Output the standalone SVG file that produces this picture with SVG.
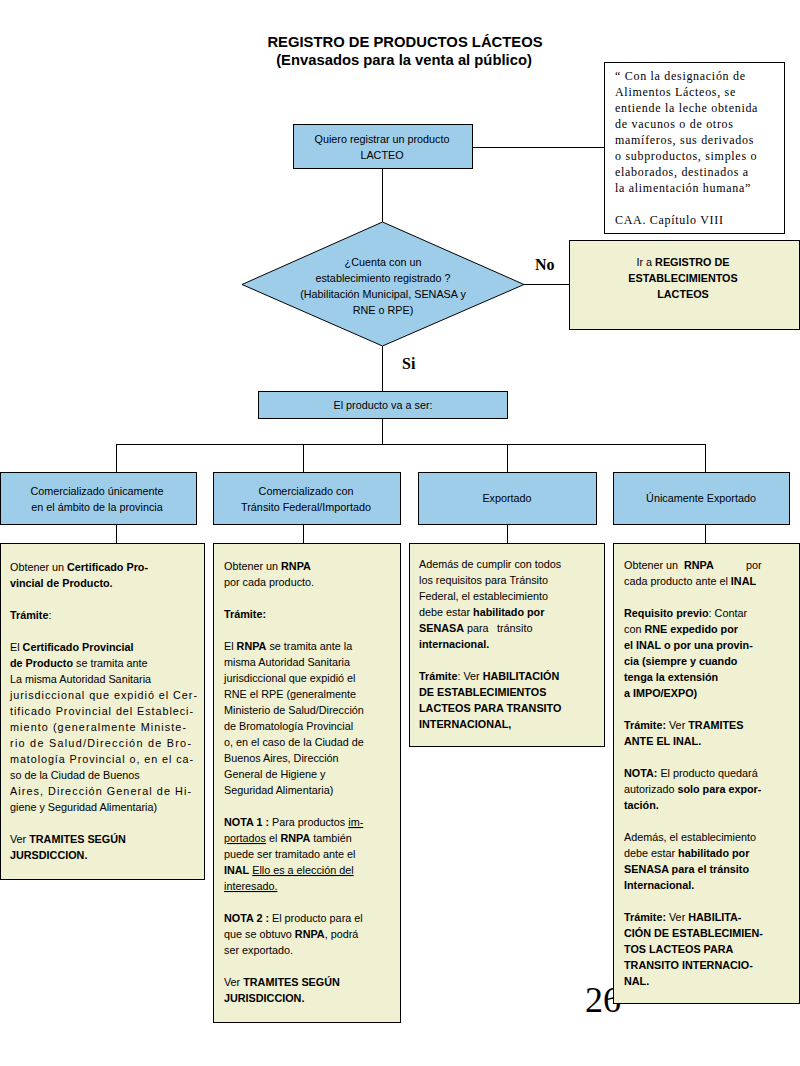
<svg xmlns="http://www.w3.org/2000/svg" width="800" height="1066" viewBox="0 0 800 1066">
<style>
.t{font-family:"Liberation Sans",Arial,sans-serif;font-size:10.8px;fill:#000}
.c{text-anchor:middle}
.b{font-weight:bold}
.u{text-decoration:underline}
.q{font-family:"Liberation Serif","Times New Roman",serif;font-size:12px;letter-spacing:0.7px;fill:#000}
.lbl{font-family:"Liberation Serif","Times New Roman",serif;font-size:16px;font-weight:bold;fill:#000}
.ttl{font-family:"Liberation Sans",Arial,sans-serif;font-size:14.8px;font-weight:bold;text-anchor:middle;fill:#000}
.blue{fill:#9ECDEA;stroke:#000;stroke-width:1}
.yel{fill:#F0F0D2;stroke:#000;stroke-width:1}
.wht{fill:#fff;stroke:#000;stroke-width:1}
.ln{stroke:#000;stroke-width:1;fill:none}
</style>
<rect width="800" height="1066" fill="#fff"/>
<g id="title">
<text class="ttl" x="405" y="47">REGISTRO DE PRODUCTOS LÁCTEOS</text>
<text class="ttl" x="404" y="65">(Envasados para la venta al público)</text>
</g>
<g id="connectors">
<path class="ln" d="M472,147.5 H604 M382.5,169 V222 M524,284.5 H569 M382.5,346 V391 M382.5,418 V444 M116,444.5 H705.5 M116.5,444 V472 M303.5,444 V472 M507.5,444 V472 M705.5,444 V472 M116.5,524 V543 M303.5,524 V543 M507.5,524 V543 M705.5,524 V543"/>
</g>
<g id="quote">
<rect class="wht" x="604.5" y="62.5" width="180" height="171"/>
<text class="q" x="615" y="80">“ Con la designación de</text>
<text class="q" x="615" y="96">Alimentos Lácteos, se</text>
<text class="q" x="615" y="112">entiende la leche obtenida</text>
<text class="q" x="615" y="128">de vacunos o de otros</text>
<text class="q" x="615" y="144">mamíferos, sus derivados</text>
<text class="q" x="615" y="160">o subproductos, simples o</text>
<text class="q" x="615" y="176">elaborados, destinados a</text>
<text class="q" x="615" y="192">la alimentación humana”</text>
<text class="q" x="615" y="224">CAA. Capítulo VIII</text>
</g>
<g id="start">
<rect class="blue" x="293.5" y="124.5" width="179" height="44"/>
<text class="t c" x="382" y="143">Quiero registrar un producto</text>
<text class="t c" x="382" y="159">LACTEO</text>
</g>
<g id="decision">
<polygon class="blue" points="382.5,222 524,284.5 382.5,346 242,284.5"/>
<text class="t c" x="383" y="266">¿Cuenta con un</text>
<text class="t c" x="383" y="282">establecimiento registrado ?</text>
<text class="t c" x="383" y="298">(Habilitación Municipal, SENASA y</text>
<text class="t c" x="383" y="314">RNE o RPE)</text>
</g>
<text class="lbl" x="535" y="270">No</text>
<text class="lbl" x="402" y="369">Si</text>
<g id="registro">
<rect class="yel" x="569.5" y="240.5" width="230" height="89"/>
<text class="t c" x="683" y="266">Ir a <tspan class="b">REGISTRO DE</tspan></text>
<text class="t c b" x="683" y="282">ESTABLECIMIENTOS</text>
<text class="t c b" x="683" y="298">LACTEOS</text>
</g>
<g id="tipo">
<rect class="blue" x="258.5" y="391.5" width="249" height="27"/>
<text class="t c" x="383" y="409">El producto va a ser:</text>
</g>
<g id="cat1">
<rect class="blue" x="0.5" y="472.5" width="196" height="52"/>
<text class="t c" x="97" y="495">Comercializado únicamente</text>
<text class="t c" x="97" y="511">en el ámbito de la provincia</text>
</g>
<g id="cat2">
<rect class="blue" x="213.5" y="472.5" width="187" height="52"/>
<text class="t c" x="306" y="495">Comercializado con</text>
<text class="t c" x="306" y="511">Tránsito Federal/Importado</text>
</g>
<g id="cat3">
<rect class="blue" x="418.5" y="472.5" width="178" height="52"/>
<text class="t c" x="507" y="502">Exportado</text>
</g>
<g id="cat4">
<rect class="blue" x="613.5" y="472.5" width="176" height="52"/>
<text class="t c" x="701" y="502">Únicamente Exportado</text>
</g>
<g id="detA">
<rect class="yel" x="0.5" y="543.5" width="204" height="336"/>
<text class="t" x="10" y="571">Obtener un <tspan class="b">Certificado Pro-</tspan></text>
<text class="t b" x="10" y="587">vincial de Producto.</text>
<text class="t" x="10" y="619"><tspan class="b">Trámite</tspan>:</text>
<text class="t" x="10" y="651">El <tspan class="b">Certificado Provincial</tspan></text>
<text class="t" x="10" y="667"><tspan class="b">de Producto</tspan> se tramita ante</text>
<text class="t" x="10" y="683">La misma Autoridad Sanitaria</text>
<text class="t" x="10" y="699" textLength="187" lengthAdjust="spacing">jurisdiccional que expidió el Cer-</text>
<text class="t" x="10" y="715" textLength="183" lengthAdjust="spacing">tificado Provincial del Estableci-</text>
<text class="t" x="10" y="731" textLength="176" lengthAdjust="spacing">miento (generalmente Ministe-</text>
<text class="t" x="10" y="747" textLength="181" lengthAdjust="spacing">rio de Salud/Dirección de Bro-</text>
<text class="t" x="10" y="763" textLength="183" lengthAdjust="spacing">matología Provincial o, en el ca-</text>
<text class="t" x="10" y="779">so de la Ciudad de Buenos</text>
<text class="t" x="10" y="795" textLength="181" lengthAdjust="spacing">Aires, Dirección General de Hi-</text>
<text class="t" x="10" y="811">giene y Seguridad Alimentaria)</text>
<text class="t" x="10" y="843">Ver <tspan class="b">TRAMITES SEGÚN</tspan></text>
<text class="t b" x="10" y="859">JURSDICCION.</text>
</g>
<g id="detB">
<rect class="yel" x="213.5" y="543.5" width="187" height="479"/>
<text class="t" x="224" y="570">Obtener un <tspan class="b">RNPA</tspan></text>
<text class="t" x="224" y="586">por cada producto.</text>
<text class="t b" x="224" y="618">Trámite:</text>
<text class="t" x="224" y="650">El <tspan class="b">RNPA</tspan> se tramita ante la</text>
<text class="t" x="224" y="666">misma Autoridad Sanitaria</text>
<text class="t" x="224" y="682">jurisdiccional que expidió el</text>
<text class="t" x="224" y="698">RNE el RPE (generalmente</text>
<text class="t" x="224" y="714">Ministerio de Salud/Dirección</text>
<text class="t" x="224" y="730">de Bromatología Provincial</text>
<text class="t" x="224" y="746">o, en el caso de la Ciudad de</text>
<text class="t" x="224" y="762">Buenos Aires, Dirección</text>
<text class="t" x="224" y="778">General de Higiene y</text>
<text class="t" x="224" y="794">Seguridad Alimentaria)</text>
<text class="t" x="224" y="826"><tspan class="b">NOTA 1 :</tspan> Para productos <tspan class="u">im-</tspan></text>
<text class="t" x="224" y="842"><tspan class="u">portados</tspan> el <tspan class="b">RNPA</tspan> también</text>
<text class="t" x="224" y="858">puede ser tramitado ante el</text>
<text class="t" x="224" y="874"><tspan class="b">INAL</tspan> <tspan class="u">Ello es a elección del</tspan></text>
<text class="t u" x="224" y="890">interesado.</text>
<text class="t" x="224" y="922"><tspan class="b">NOTA 2 :</tspan> El producto para el</text>
<text class="t" x="224" y="938">que se obtuvo <tspan class="b">RNPA</tspan>, podrá</text>
<text class="t" x="224" y="954">ser exportado.</text>
<text class="t" x="224" y="986">Ver <tspan class="b">TRAMITES SEGÚN</tspan></text>
<text class="t b" x="224" y="1002">JURISDICCION.</text>
</g>
<g id="detC">
<rect class="yel" x="409.5" y="543.5" width="195" height="203"/>
<text class="t" x="419" y="568">Además de cumplir con todos</text>
<text class="t" x="419" y="584">los requisitos para Tránsito</text>
<text class="t" x="419" y="600">Federal, el establecimiento</text>
<text class="t" x="419" y="616">debe estar <tspan class="b">habilitado por</tspan></text>
<text class="t" x="419" y="632"><tspan class="b">SENASA</tspan> para <tspan x="497">tránsito</tspan></text>
<text class="t b" x="419" y="648">internacional.</text>
<text class="t" x="419" y="680"><tspan class="b">Trámite</tspan>: Ver <tspan class="b">HABILITACIÓN</tspan></text>
<text class="t b" x="419" y="696">DE ESTABLECIMIENTOS</text>
<text class="t b" x="419" y="712">LACTEOS <tspan x="474">PARA TRANSITO</tspan></text>
<text class="t b" x="419" y="728">INTERNACIONAL,</text>
</g>
<text x="585" y="1012" font-family="Liberation Serif, Times New Roman, serif" font-size="36" fill="#000">26</text>
<g id="detD">
<rect class="yel" x="613.5" y="543.5" width="186" height="460"/>
<text class="t" x="624" y="569">Obtener un <tspan class="b" x="684">RNPA</tspan><tspan x="746">por</tspan></text>
<text class="t" x="624" y="585">cada producto ante el <tspan class="b">INAL</tspan></text>
<text class="t" x="624" y="617"><tspan class="b">Requisito previo</tspan>: Contar</text>
<text class="t" x="624" y="633">con <tspan class="b">RNE expedido por</tspan></text>
<text class="t b" x="624" y="649">el INAL o por una provin-</text>
<text class="t b" x="624" y="665">cia (siempre y cuando</text>
<text class="t b" x="624" y="681">tenga la extensión</text>
<text class="t b" x="624" y="697">a IMPO/EXPO)</text>
<text class="t" x="624" y="729"><tspan class="b">Trámite:</tspan> Ver <tspan class="b">TRAMITES</tspan></text>
<text class="t b" x="624" y="745">ANTE EL INAL.</text>
<text class="t" x="624" y="777"><tspan class="b">NOTA:</tspan> El producto quedará</text>
<text class="t" x="624" y="793">autorizado <tspan class="b">solo para expor-</tspan></text>
<text class="t b" x="624" y="809">tación.</text>
<text class="t" x="624" y="841">Además, el establecimiento</text>
<text class="t" x="624" y="857">debe estar <tspan class="b">habilitado por</tspan></text>
<text class="t b" x="624" y="873">SENASA para el tránsito</text>
<text class="t b" x="624" y="889">Internacional.</text>
<text class="t" x="624" y="921"><tspan class="b">Trámite:</tspan> Ver <tspan class="b">HABILITA-</tspan></text>
<text class="t b" x="624" y="937">CIÓN DE ESTABLECIMIEN-</text>
<text class="t b" x="624" y="953">TOS LACTEOS PARA</text>
<text class="t b" x="624" y="969">TRANSITO INTERNACIO-</text>
<text class="t b" x="624" y="985">NAL.</text>
</g>
</svg>
